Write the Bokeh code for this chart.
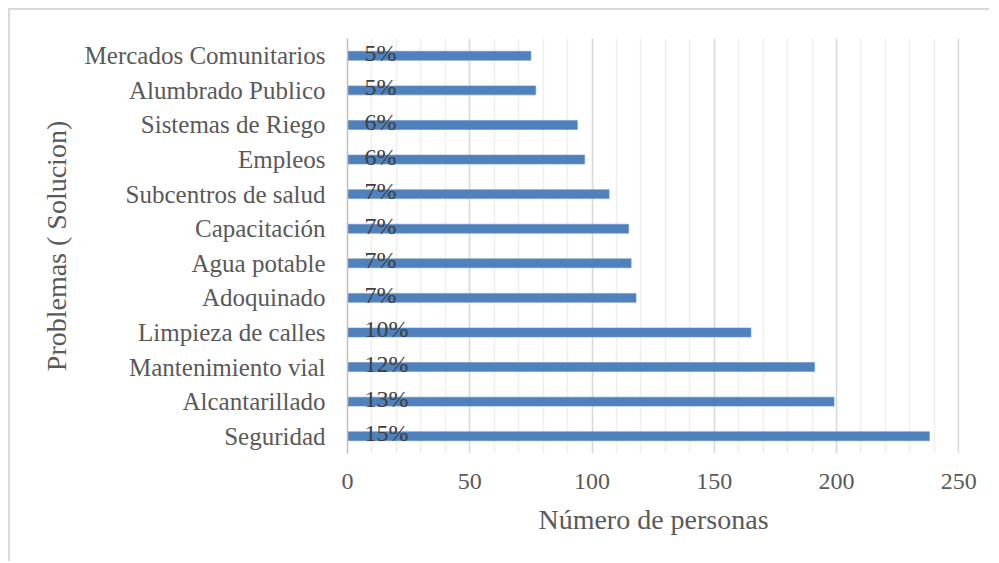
from bokeh.plotting import figure
from bokeh.models import FactorRange, Range1d, SingleIntervalTicker, ColumnDataSource
from bokeh.core.properties import value
from bokeh.embed import file_html
from bokeh.resources import INLINE

categories = ["Seguridad", "Alcantarillado", "Mantenimiento vial", "Limpieza de calles",
              "Adoquinado", "Agua potable", "Capacitación", "Subcentros de salud",
              "Empleos", "Sistemas de Riego", "Alumbrado Publico", "Mercados Comunitarios"]
personas = [238, 199, 191, 165, 118, 116, 115, 107, 97, 94, 77, 75]
porcentajes = ["15%", "13%", "12%", "10%", "7%", "7%", "7%", "7%", "6%", "6%", "5%", "5%"]

FONT = "Liberation Serif"
TXT = "#595959"

src = ColumnDataSource(dict(cat=categories, val=personas, pct=porcentajes,
                            zero=[0] * len(categories)))

p = figure(width=981, height=553, output_backend="svg", toolbar_location=None,
           y_range=FactorRange(factors=categories, range_padding=0),
           x_range=Range1d(0, 250.3),
           min_border_left=337, min_border_right=32, min_border_top=28, min_border_bottom=110)
p.styles = {"border-left": "2px solid #d9d9d9", "border-top": "2px solid #d9d9d9",
            "margin-left": "8px", "margin-top": "8px"}
p.outline_line_color = None
p.background_fill_color = "white"
p.border_fill_color = "white"

p.hbar(y="cat", right="val", left=0, height=0.26, source=src,
       fill_color="#4f81bd", line_color="#6a93c6", line_width=0.6)

p.text(x="zero", y="cat", text="pct", source=src, x_offset=17, y_offset=-3,
       text_align="left", text_baseline="middle", text_font=value(FONT),
       text_font_size="24px", text_color="#404040")

p.xaxis.ticker = SingleIntervalTicker(interval=50, num_minor_ticks=5)
p.xgrid.grid_line_color = "#d9d9d9"
p.xgrid.grid_line_width = 1.5
p.xgrid.minor_grid_line_color = "#eeeeee"
p.xgrid.minor_grid_line_width = 1.5
p.ygrid.grid_line_color = None

for ax in (p.xaxis, p.yaxis):
    ax.major_tick_line_color = None
    ax.minor_tick_line_color = None
    ax.major_label_text_font = FONT
    ax.major_label_text_font_size = "24px"
    ax.major_label_text_color = TXT
    ax.axis_label_text_font = FONT
    ax.axis_label_text_font_size = "28px"
    ax.axis_label_text_font_style = "normal"
    ax.axis_label_text_color = TXT

p.yaxis.major_label_text_font_size = "25px"

p.xaxis.axis_line_color = None
p.xaxis.major_label_standoff = 14
p.xaxis.axis_label = "Número de personas"
p.xaxis.axis_label_standoff = 12

p.yaxis.axis_line_color = "#bfbfbf"
p.yaxis.axis_line_width = 1.5
p.yaxis.major_label_standoff = 16
p.yaxis.axis_label = "Problemas ( Solucion)"
p.yaxis.axis_label_standoff = 10

open("out.html", "w").write(file_html(p, INLINE))
